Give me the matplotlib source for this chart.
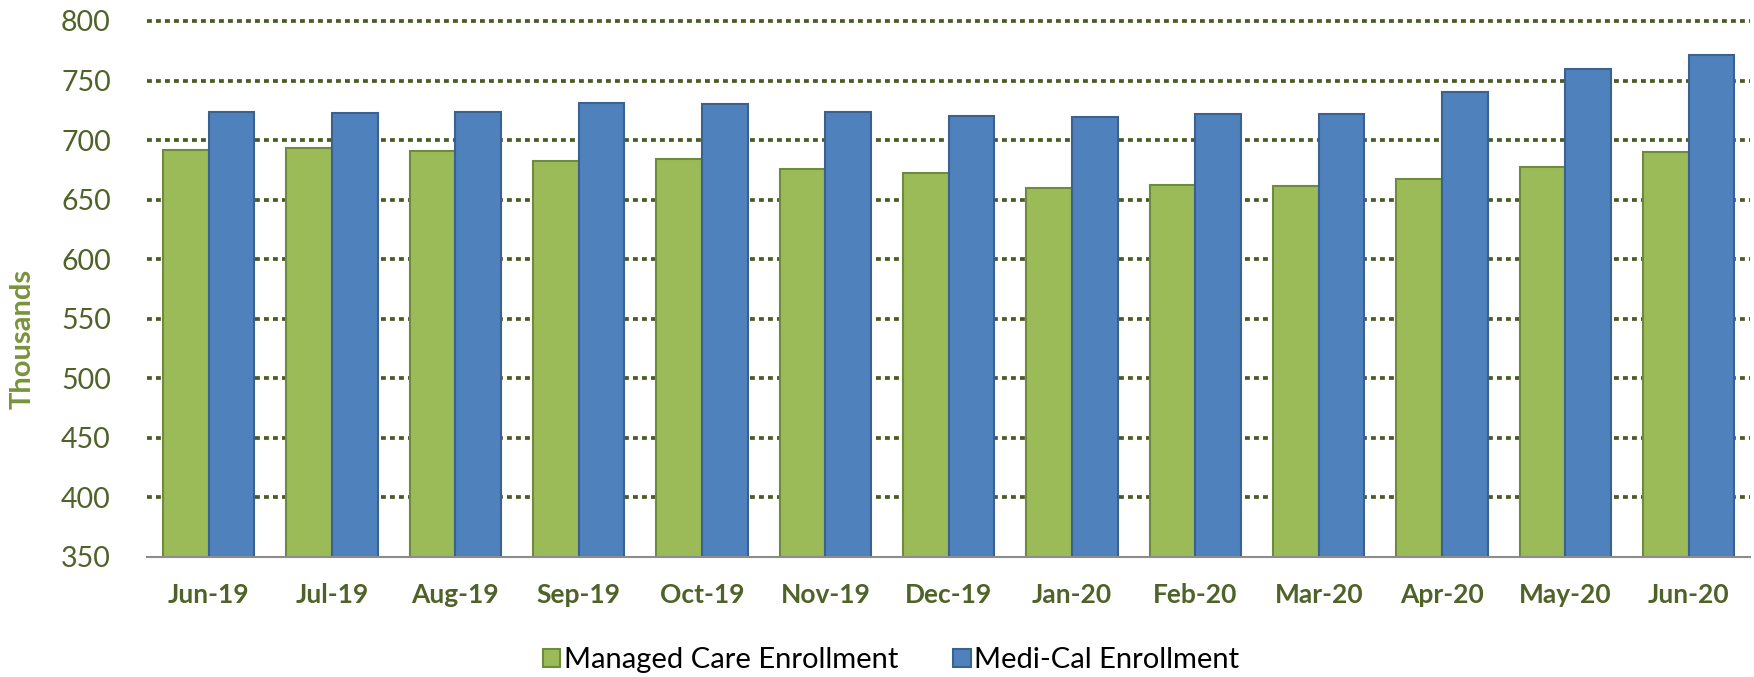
import matplotlib.pyplot as plt
import numpy as np

months = ['Jun-19', 'Jul-19', 'Aug-19', 'Sep-19', 'Oct-19', 'Nov-19', 'Dec-19',
          'Jan-20', 'Feb-20', 'Mar-20', 'Apr-20', 'May-20', 'Jun-20']
managed_care = [691.5, 693, 691, 682.5, 684, 675.5, 672, 659.5, 662.5, 661.5, 667.5, 677, 690]
medi_cal = [723.5, 723, 723.5, 731, 730.5, 723.3, 720, 719.5, 722, 721.5, 740, 759.5, 771.5]

green = '#9BBB59'
blue = '#4F81BD'
olive = '#4F6228'

plt.rcParams['font.family'] = ['Lato', 'DejaVu Sans']

fig = plt.figure(figsize=(17.54, 6.77), dpi=100)
ax = fig.add_axes([0.0838, 0.1777, 0.9142, 0.7913])

x = np.arange(len(months))
w = 0.37
ax.bar(x - w / 2, managed_care, w, color=green, edgecolor='#6E8B3D', linewidth=1.5,
       label='Managed Care Enrollment', zorder=3)
ax.bar(x + w / 2, medi_cal, w, color=blue, edgecolor='#3A6190', linewidth=1.5,
       label='Medi-Cal Enrollment', zorder=3)

ax.set_xlim(-0.5, len(months) - 0.5)
ax.set_ylim(350, 800)
ax.set_yticks(np.arange(350, 801, 50))
ax.set_xticks(x)
ax.set_xticklabels(months, fontsize=19, fontweight='bold', color=olive)
ax.tick_params(axis='y', length=0, pad=26, labelsize=20.5, labelcolor=olive)
ax.tick_params(axis='x', length=0, pad=19)

# dotted gridlines (not at the base line)
for v in np.arange(400, 801, 50):
    ax.axhline(v, color='#4A5C24', linewidth=2.7, linestyle=(0, (1.3, 1.1)),
               zorder=1, clip_on=False)

for s in ['top', 'right', 'left']:
    ax.spines[s].set_visible(False)
ax.spines['bottom'].set_color('#8C8C8C')
ax.spines['bottom'].set_linewidth(1.5)
ax.spines['bottom'].set_zorder(4)

fig.text(0.013, 0.5, 'Thousands', rotation=90, va='center', ha='center',
         fontsize=21, fontweight='bold', color='#77933C')

fig.legend(loc='center', bbox_to_anchor=(0.508, 0.025), ncol=2, frameon=False,
           fontsize=21, handlelength=0.6, handleheight=0.6, handletextpad=0.12,
           columnspacing=1.9)

fig.savefig('out.png', dpi=100)
